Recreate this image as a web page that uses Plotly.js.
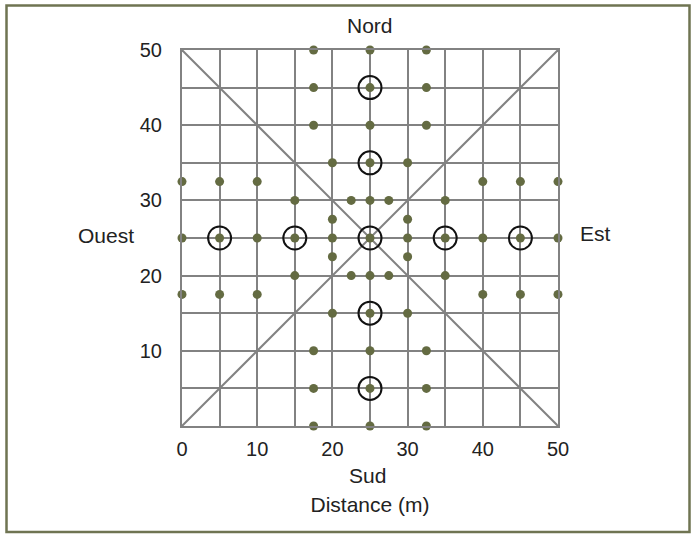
<!DOCTYPE html>
<html>
<head>
<meta charset="utf-8">
<script src="https://cdn.plot.ly/plotly-3.0.1.min.js"></script>
<style>html,body{margin:0;padding:0;background:#fff;}#chart{width:694px;height:539px;}</style>
</head>
<body>
<div id="chart"></div>
<script>
// Sampling points (metres)
const pointsX = [17.5,25,32.5, 17.5,25,32.5, 17.5,25,32.5, 20,25,30,
  0,5,10,40,45,50, 15,22.5,25,27.5,35, 20,30,
  0,5,10,15,20,25,30,35,40,45,50, 20,30, 15,22.5,25,27.5,35,
  0,5,10,40,45,50, 20,25,30, 17.5,25,32.5, 17.5,25,32.5, 17.5,25,32.5];
const pointsY = [50,50,50, 45,45,45, 40,40,40, 35,35,35,
  32.5,32.5,32.5,32.5,32.5,32.5, 30,30,30,30,30, 27.5,27.5,
  25,25,25,25,25,25,25,25,25,25,25, 22.5,22.5, 20,20,20,20,20,
  17.5,17.5,17.5,17.5,17.5,17.5, 15,15,15, 10,10,10, 5,5,5, 0,0,0];
// Circled stations
const circlesX = [25,25,5,15,25,35,45,25,25];
const circlesY = [45,35,25,25,25,25,25,15,5];
// Diagonals
const diag1X = [0,50], diag1Y = [0,50];
const diag2X = [0,50], diag2Y = [50,0];
const xTicks = [0,10,20,30,40,50];
const yTicks = [10,20,30,40,50];

const gridColor = '#828282';
const dotColor = '#646b42';
const frameColor = '#6f7452';

const traces = [
  {x: diag1X, y: diag1Y, mode:'lines', line:{color:gridColor, width:2}, hoverinfo:'skip', showlegend:false},
  {x: diag2X, y: diag2Y, mode:'lines', line:{color:gridColor, width:2}, hoverinfo:'skip', showlegend:false},
  {x: pointsX, y: pointsY, mode:'markers', marker:{color:dotColor, size:9}, cliponaxis:false, showlegend:false},
  {x: circlesX, y: circlesY, mode:'markers', marker:{color:'rgba(0,0,0,0)', size:23, line:{color:'#111', width:2}}, cliponaxis:false, showlegend:false}
];

const tickFont = {family:'Liberation Sans, Arial, sans-serif', size:20, color:'#222'};
const font = {family:'Liberation Sans, Arial, sans-serif', size:21, color:'#222'};
const axisCommon = {
  range:[0,50], showgrid:true, gridcolor:gridColor, gridwidth:2,
  zeroline:false, showline:true, linecolor:gridColor, linewidth:2, mirror:true,
  ticks:'', tickfont:tickFont, fixedrange:true,
  minor:{dtick:5, tick0:0, showgrid:true, gridcolor:gridColor, gridwidth:2}
};

const layout = {
  width:694, height:539,
  margin:{l:182, r:136, t:50, b:113},
  paper_bgcolor:'#fff', plot_bgcolor:'#fff',
  font: font,
  xaxis: Object.assign({}, axisCommon, {tickmode:'array', tickvals:xTicks, ticktext:xTicks.map(String), ticklabelstandoff:4,
    title:{text:'Distance (m)', font:font, standoff:38}}),
  yaxis: Object.assign({}, axisCommon, {tickmode:'array', tickvals:yTicks, ticktext:yTicks.map(String), ticklabelstandoff:14}),
  annotations:[
    {text:'Nord', xref:'paper', yref:'paper', x:0.5, y:(426-25)/376, showarrow:false, font:font, xanchor:'center', yanchor:'middle'},
    {text:'Sud', xref:'paper', yref:'paper', x:(367-182)/376, y:(426-475)/376, showarrow:false, font:font, xanchor:'center', yanchor:'middle'},
    {text:'Ouest', xref:'paper', yref:'paper', x:(106-182)/376, y:(426-235)/376, showarrow:false, font:font, xanchor:'center', yanchor:'middle'},
    {text:'Est', xref:'paper', yref:'paper', x:(595-182)/376, y:(426-233)/376, showarrow:false, font:font, xanchor:'center', yanchor:'middle'}
  ],
  shapes:[
    {type:'rect', xref:'paper', yref:'paper', x0:(6.5-182)/376, x1:(689.5-182)/376, y0:(426-532)/376, y1:(426-5.5)/376,
     line:{color:frameColor, width:2.5}, fillcolor:'rgba(0,0,0,0)', layer:'above'}
  ]
};

Plotly.newPlot('chart', traces, layout, {displayModeBar:false, staticPlot:true});
</script>
</body>
</html>
